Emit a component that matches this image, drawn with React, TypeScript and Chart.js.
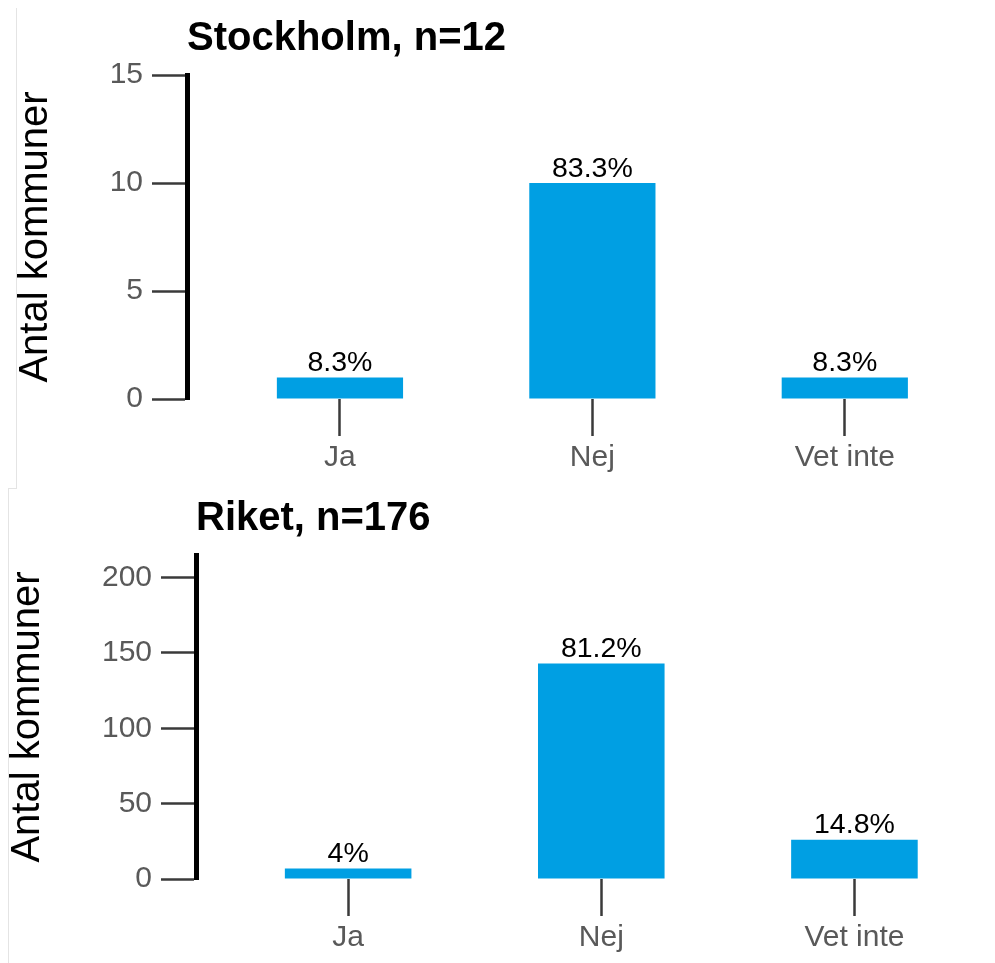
import React, { useEffect, useRef, useState } from "react";
import { Chart, registerables } from "chart.js";

Chart.register(...registerables);

// ---- data ----
const categories = ["Ja", "Nej", "Vet inte"];
const yAxisTitle = "Antal kommuner";

const stockholmTitle = "Stockholm, n=12";
const stockholmValues = [1, 10, 1];
const stockholmPct = ["8.3%", "83.3%", "8.3%"];
const stockholmYMax = 15;
const stockholmYStep = 5;

const riketTitle = "Riket, n=176";
const riketValues = [7, 143, 26];
const riketPct = ["4%", "81.2%", "14.8%"];
const riketYMax = 215;
const riketYStep = 50;

// ---- styles ----
const FONT = "'Liberation Sans', Arial, Helvetica, sans-serif";
const BAR_COLOR = "#009fe3";
const TICK_TEXT = "#595959";
const TICK_LINE = "#3a3a3a";

const pctPlugin = {
  id: "pctLabels",
  afterDatasetsDraw(chart: any, _args: any, opts: any) {
    const { ctx } = chart;
    const meta = chart.getDatasetMeta(0);
    const labels = (opts && opts.labels) || [];
    ctx.save();
    ctx.font = `28.5px ${FONT}`;
    ctx.fillStyle = "#000";
    ctx.textAlign = "center";
    ctx.textBaseline = "alphabetic";
    meta.data.forEach((bar: any, i: number) => {
      ctx.fillText(labels[i] ?? "", bar.x, bar.y - 6.5);
    });
    ctx.restore();
  },
};

type PanelProps = {
  left: number;
  top: number;
  width: number;
  height: number;
  yAxisWidth: number;
  xMin: number;
  title: string;
  values: number[];
  pct: string[];
  yMax: number;
  yStep: number;
};

function Panel(p: PanelProps) {
  const ref = useRef<HTMLCanvasElement | null>(null);
  const [err, setErr] = useState("");
  useEffect(() => {
    if (!ref.current) return;
    let chart: any = null;
    try {
      chart = new Chart(ref.current, {
        type: "bar",
        data: {
          datasets: [
            {
              data: p.values.map((v, i) => ({ x: i, y: v })),
              backgroundColor: BAR_COLOR,
              borderWidth: 0,
              categoryPercentage: 0.5,
              barPercentage: 1,
            },
          ],
        },
        plugins: [pctPlugin],
        options: {
          animation: false,
          responsive: false,
          devicePixelRatio: 1,
          plugins: {
            legend: { display: false },
            tooltip: { enabled: false },
            title: {
              display: true,
              text: p.title,
              align: "start",
              fullSize: false,
              color: "#000",
              font: { family: FONT, size: 40, weight: "bold", lineHeight: 1.2 },
              padding: { top: 6.5, bottom: 12.5 },
            },
            pctLabels: { labels: p.pct },
          },
          scales: {
            x: {
              type: "linear",
              min: p.xMin,
              max: 2.5,
              offset: false,
              afterBuildTicks: (s: any) => {
                s.ticks = categories.map((_, i) => ({ value: i }));
              },
              afterFit: (s: any) => {
                s.height = 84;
              },
              border: { display: false },
              grid: {
                display: true,
                offset: false,
                drawOnChartArea: false,
                drawTicks: true,
                tickLength: 37,
                tickColor: TICK_LINE,
                tickWidth: 2.5,
              },
              ticks: {
                autoSkip: false,
                maxRotation: 0,
                padding: 4,
                color: TICK_TEXT,
                font: { family: FONT, size: 30 },
                callback: (v: any) => {
                  const k = Math.round(Number(v));
                  return categories[k] !== undefined ? categories[k] : "";
                },
              },
            },
            y: {
              type: "linear",
              min: 0,
              max: p.yMax,
              afterFit: (s: any) => {
                s.width = p.yAxisWidth;
              },
              border: { display: true, color: "#000", width: 5 },
              grid: {
                display: true,
                drawOnChartArea: false,
                drawTicks: true,
                tickLength: 35,
                tickColor: TICK_LINE,
                tickWidth: 2.5,
              },
              ticks: {
                stepSize: p.yStep,
                includeBounds: false,
                padding: 9,
                color: TICK_TEXT,
                font: { family: FONT, size: 30 },
              },
              title: {
                display: true,
                text: yAxisTitle,
                color: "#000",
                font: { family: FONT, size: 40, lineHeight: 1 },
                padding: { top: 0, bottom: 0 },
              },
            },
          },
        } as any,
      } as any);
    } catch (e: any) {
      setErr(String(e && e.stack ? e.stack : e));
    }
    return () => {
      if (chart) chart.destroy();
    };
  }, []);
  return (
    <>
      <canvas
        ref={ref}
        width={p.width}
        height={p.height}
        style={{
          position: "absolute",
          left: p.left,
          top: p.top,
          width: p.width,
          height: p.height,
          display: "block",
        }}
      />
      {err ? (
        <pre style={{ position: "absolute", left: p.left, top: p.top, fontSize: 12, color: "red", whiteSpace: "pre-wrap", width: 900 }}>{err}</pre>
      ) : null}
    </>
  );
}

export default function App() {
  return (
    <div>
      <div
        style={{
          position: "absolute",
          left: 16,
          top: 8,
          width: 0,
          height: 480,
          borderLeft: "1px solid #e4e4e4",
        }}
      />
      <div
        style={{
          position: "absolute",
          left: 8,
          top: 488,
          width: 8,
          height: 474,
          borderLeft: "1px solid #e4e4e4",
          borderTop: "1px solid #e4e4e4",
        }}
      />
      <Panel
        left={16}
        top={8}
        width={955}
        height={475}
        yAxisWidth={171}
        xMin={-0.606}
        title={stockholmTitle}
        values={stockholmValues}
        pct={stockholmPct}
        yMax={stockholmYMax}
        yStep={stockholmYStep}
      />
      <Panel
        left={8}
        top={488}
        width={973}
        height={475}
        yAxisWidth={188}
        xMin={-0.601}
        title={riketTitle}
        values={riketValues}
        pct={riketPct}
        yMax={riketYMax}
        yStep={riketYStep}
      />
    </div>
  );
}
